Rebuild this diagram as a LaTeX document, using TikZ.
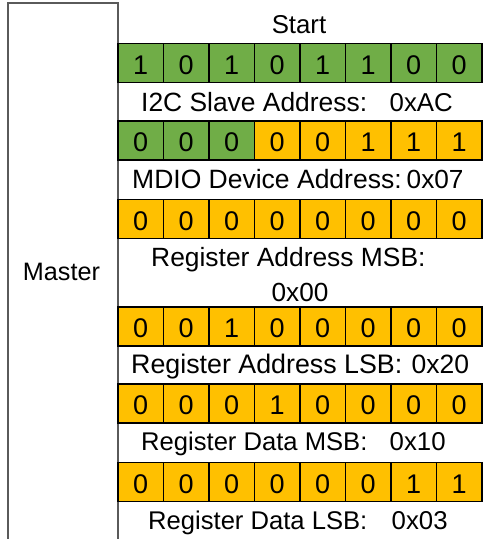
\documentclass[tikz,border=0pt]{standalone}
\usepackage{fontspec}
\setmainfont{Liberation Sans}
\definecolor{bitgreen}{HTML}{70AD47}
\definecolor{bitorange}{HTML}{FFC000}
\definecolor{boxgray}{HTML}{5A5A5A}
\begin{document}
\begin{tikzpicture}[x=1pt,y=-1pt,
  cell/.style={draw=black, line width=1.8pt, minimum width=45.5pt, minimum height=39pt,
    inner sep=0pt, text height=22.3pt, text depth=0pt, font=\fontsize{27}{30}\selectfont},
  gcell/.style={cell, fill=bitgreen},
  ocell/.style={cell, fill=bitorange},
  lbl/.style={inner sep=0pt, anchor=base west},
  masterline/.style={draw=boxgray, line width=1.3pt}
]
\useasboundingbox (0,0) rectangle (484,539);
\fill[white] (0,0) rectangle (484,539);

% Master box
\coordinate (mbl) at (8,539);
\coordinate (mtl) at (8,3);
\coordinate (mtr) at (118,3);
\coordinate (mbr) at (118,539);
\draw[masterline] (mbl) -- (mtl) -- (mtr) -- (mbr);
\node[inner sep=0pt, anchor=base, font=\fontsize{25.2}{30}\selectfont] (master) at (61.5,280) {Master};

% Start
\node[inner sep=0pt, anchor=base, font=\fontsize{25.8}{30}\selectfont] (start) at (299,33.3) {Start};

% Row 1: I2C slave address
\foreach \b [count=\c] in {1,0,1,0,1,1,0,0}
  \node[gcell] (r1c\c) at ({118+45.5*(\c-0.5)},63) {\b};
% Row 2: MDIO device address
\foreach \b [count=\c] in {0,0,0}
  \node[gcell] (r2c\c) at ({118+45.5*(\c-0.5)},140.5) {\b};
\foreach \b [count=\c from 4] in {0,0,1,1,1}
  \node[ocell] (r2c\c) at ({118+45.5*(\c-0.5)},140.5) {\b};
% Row 3: register address MSB
\foreach \b [count=\c] in {0,0,0,0,0,0,0,0}
  \node[ocell] (r3c\c) at ({118+45.5*(\c-0.5)},219) {\b};
% Row 4: register address LSB
\foreach \b [count=\c] in {0,0,1,0,0,0,0,0}
  \node[ocell] (r4c\c) at ({118+45.5*(\c-0.5)},326.5) {\b};
% Row 5: register data MSB
\foreach \b [count=\c] in {0,0,0,1,0,0,0,0}
  \node[ocell] (r5c\c) at ({118+45.5*(\c-0.5)},403.5) {\b};
% Row 6: register data LSB
\foreach \b [count=\c] in {0,0,0,0,0,0,1,1}
  \node[ocell] (r6c\c) at ({118+45.5*(\c-0.5)},482) {\b};

% Labels
\node[lbl, font=\fontsize{26.4}{30}\selectfont] (l1) at (141,111.7) {I2C Slave Address:};
\node[lbl, font=\fontsize{25.8}{30}\selectfont] (v1) at (389.5,111.7) {0xAC};

\node[lbl, font=\fontsize{26.5}{30}\selectfont] (l2) at (132,188.7) {MDIO Device Address:};
\node[lbl, font=\fontsize{26.2}{30}\selectfont] (v2) at (406.5,188.7) {0x07};

\node[lbl, font=\fontsize{26.4}{30}\selectfont] (l3) at (151,266.7) {Register Address MSB:};
\node[inner sep=0pt, anchor=base, font=\fontsize{26.2}{30}\selectfont] (v3) at (300,301) {0x00};

\node[lbl, font=\fontsize{26.8}{30}\selectfont] (l4) at (131,373.7) {Register Address LSB:};
\node[lbl, font=\fontsize{26.5}{30}\selectfont] (v4) at (411.5,373.7) {0x20};

\node[lbl, font=\fontsize{25.6}{30}\selectfont] (l5) at (141,450.7) {Register Data MSB:};
\node[lbl, font=\fontsize{25.8}{30}\selectfont] (v5) at (389.5,450.7) {0x10};

\node[lbl, font=\fontsize{25.6}{30}\selectfont] (l6) at (148,529.7) {Register Data LSB:};
\node[lbl, font=\fontsize{25.8}{30}\selectfont] (v6) at (391.5,529.7) {0x03};
\end{tikzpicture}
\end{document}
